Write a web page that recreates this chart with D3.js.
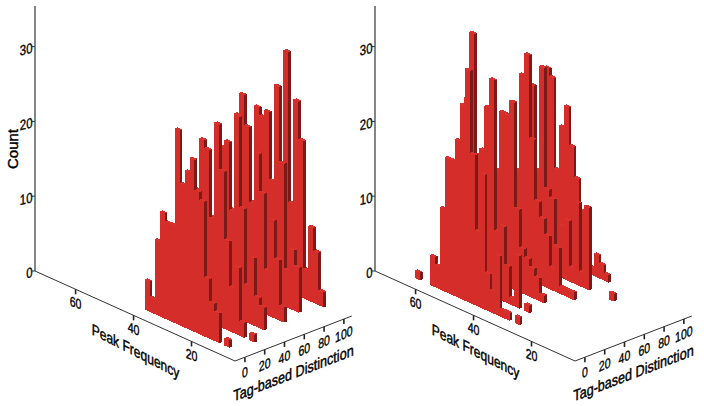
<!DOCTYPE html>
<html><head><meta charset="utf-8">
<script src="https://cdnjs.cloudflare.com/ajax/libs/d3/7.8.5/d3.min.js"></script>
<style>html,body{margin:0;padding:0;background:#fff}svg{display:block}text{font-family:"Liberation Sans",Arial,sans-serif;fill:#000}</style>
</head><body><svg id="c" width="704" height="406"></svg>
<script>
// Tag-based Distinction value of each row of bars
const tagRows = [3, 23, 43, 63, 83, 103];
const freqTicks = [60, 40, 20];
const tagTicks = [0, 20, 40, 60, 80, 100];
const countTicks = [0, 10, 20, 30];
// Peak Frequency bins: lower edge of bin j = freqStart + j * freqStep
const freqStart = 9.62, freqStep = 1.724, tagDepth = 3;

const left0 = [0,1,0,4,5,8,18,19,23,21,19,26,13,13,14,10,2,4];
const left1 = [1,0,2,9,6,12,21,27,14,23,24,17,16,15,12,9,6,3,1];
const left2 = [0,0,3,4,9,5,15,27,14,23,22,17,12,12,11,9,6,3,1];
const left3 = [0,0,2,8,13,6,16,21,14,24,28,25,12,10,8,6,4,2,1];
const left4 = [0,0,0,6,8,5,19,29,16,25,24,25,12,10,8,7,5,3,1];
const left5 = [0,0,2,7,10,4,21,26,12,32,15,14,12,10,8,6,4,2,1];

const right0 = [0,0,0,0,0,0,0,0,0,0,0,1,0,1,1,8,3,5,18,10,20,31,26,21,18,18,11,3,4,0,0,1];
const right1 = [0,0,0,0,0,0,0,0,0,0,0,0,0,1,0,7,1,5,10,9,29,25,19,18,34,25,18,10,2];
const right2 = [0,0,0,0,0,0,0,0,0,0,0,0,0,0,1,3,4,5,6,11,25,23,23,15,12,9,6,3,1];
const right3 = [0,0,0,0,0,0,0,0,0,0,0,0,1,1,1,6,3,7,9,11,19,30,27,14,11,8,5,3,1];
const right4 = [0,0,0,0,0,0,0,0,1,0,0,0,0,11,2,11,2,8,7,4,10,11,27,13,24,10,6,3,1];
const right5 = [0,0,0,0,0,0,0,0,0,0,0,0,0,1,2,3,1,5,8,12,16,21,18,12,24,25,14,5,2];

const leftRows = [left0,left1,left2,left3,left4,left5];
const rightRows = [right0,right1,right2,right3,right4,right5];

const red = "#d52d2a", dark = "#7c1a17", topRed = "#d8332f", axisCol = "#333";

// Oblique projection built from linear scales
const xF = d3.scaleLinear().domain([5,74]).range([0,-200]);
const yF = d3.scaleLinear().domain([5,74]).range([0,-90]);
const xT = d3.scaleLinear().domain([-10,108]).range([0,116.8]);
const yT = d3.scaleLinear().domain([-10,108]).range([0,-45]);
const yC = d3.scaleLinear().domain([0,30]).range([0,-224.4]);
const cornerX = 235, cornerY = 361;

const svg = d3.select("#c");

function panel(rows, dx, showCount){
  const g = svg.append("g").attr("transform",`translate(${dx},0)`);
  const P = (f,t,c=0)=>[cornerX+xF(f)+xT(t), cornerY+yF(f)+yT(t)+yC(c)];
  const pts = a => a.map(p=>p.join(",")).join(" ");

  // axes
  const vx = P(74,-10)[0], vy = P(74,-10)[1];
  g.append("line").attr("x1",vx).attr("x2",vx).attr("y1",vy).attr("y2",6).attr("stroke",axisCol).attr("stroke-width",1.2);
  g.append("polyline").attr("fill","none").attr("stroke",axisCol).attr("stroke-width",1)
    .attr("points",pts([P(74,-10),P(5,-10),P(5,108)]));

  g.selectAll(".ct").data(countTicks).join("line")
    .attr("x1",vx-3).attr("x2",vx).attr("y1",d=>vy+yC(d)).attr("y2",d=>vy+yC(d)).attr("stroke",axisCol);
  g.selectAll(".cl").data(countTicks).join("text")
    .attr("transform",d=>`translate(${vx-2.5},${vy+yC(d)+6}) skewY(-14) scale(0.95,1.2)`)
    .attr("text-anchor","end").attr("font-size",12).attr("stroke","#000").attr("stroke-width",0.3).text(d=>d);

  g.selectAll(".ft").data(freqTicks).join("line")
    .attr("x1",d=>P(d,-10)[0]).attr("x2",d=>P(d,-10)[0])
    .attr("y1",d=>P(d,-10)[1]).attr("y2",d=>P(d,-10)[1]+5).attr("stroke","#222").attr("stroke-width",1.6);
  g.selectAll(".fl").data(freqTicks).join("text")
    .attr("transform",d=>{const p=P(d,-10);return `translate(${p[0]},${p[1]+13.5}) skewY(20) scale(0.92,1.2)`;})
    .attr("text-anchor","middle").attr("dy","0.35em").attr("font-size",11.5).attr("stroke","#000").attr("stroke-width",0.3).text(d=>d);

  g.selectAll(".tt").data(tagTicks).join("line")
    .attr("x1",d=>P(5,d)[0]).attr("x2",d=>P(5,d)[0])
    .attr("y1",d=>P(5,d)[1]).attr("y2",d=>P(5,d)[1]+5).attr("stroke","#222").attr("stroke-width",1.6);
  g.selectAll(".tl").data(tagTicks).join("text")
    .attr("transform",d=>{const p=P(5,d);return `translate(${p[0]},${p[1]+15}) skewY(-24) scale(0.92,1.2)`;})
    .attr("text-anchor","middle").attr("dy","0.35em").attr("font-size",11.5).attr("stroke","#000").attr("stroke-width",0.3).text(d=>d);

  g.append("text").attr("transform","translate(135.5,351) skewY(27) scale(0.86,1.12)")
    .attr("text-anchor","middle").attr("dy","0.35em").attr("font-size",14)
    .attr("stroke","#000").attr("stroke-width",0.4).text("Peak Frequency");
  g.append("text").attr("transform","translate(293.5,373) skewY(-21) scale(0.9,1.12)")
    .attr("text-anchor","middle").attr("dy","0.35em").attr("font-size",14)
    .attr("stroke","#000").attr("stroke-width",0.4).text("Tag-based Distinction");
  if(showCount){
    g.append("text").attr("transform","translate(13,149) rotate(-90)")
      .attr("text-anchor","middle").attr("dy","0.35em").attr("font-size",15)
      .attr("stroke","#000").attr("stroke-width",0.4).text("Count");
  }

  // bars, painted far to near
  const bars = [];
  for(let w=rows.length-1;w>=0;w--){
    for(let j=rows[w].length-1;j>=0;j--){
      if(rows[w][j]>0) bars.push({t:tagRows[w],f0:freqStart+j*freqStep,f1:freqStart+(j+1)*freqStep,c:rows[w][j]});
    }
  }
  const b = g.selectAll(".bar").data(bars).join("g").attr("class","bar").attr("shape-rendering","crispEdges");
  b.append("polygon").attr("fill",topRed)
    .attr("points",d=>pts([P(d.f1,d.t,d.c),P(d.f0,d.t,d.c),P(d.f0,d.t+tagDepth,d.c),P(d.f1,d.t+tagDepth,d.c)]));
  b.append("polygon").attr("fill",dark)
    .attr("points",d=>pts([P(d.f0,d.t,0),P(d.f0,d.t+tagDepth,0),P(d.f0,d.t+tagDepth,d.c),P(d.f0,d.t,d.c)]));
  b.append("polygon").attr("fill",red)
    .attr("points",d=>pts([P(d.f1,d.t,0),P(d.f0,d.t,0),P(d.f0,d.t,d.c),P(d.f1,d.t,d.c)]));
}
panel(leftRows,0,true);
panel(rightRows,340,false);
</script></body></html>
